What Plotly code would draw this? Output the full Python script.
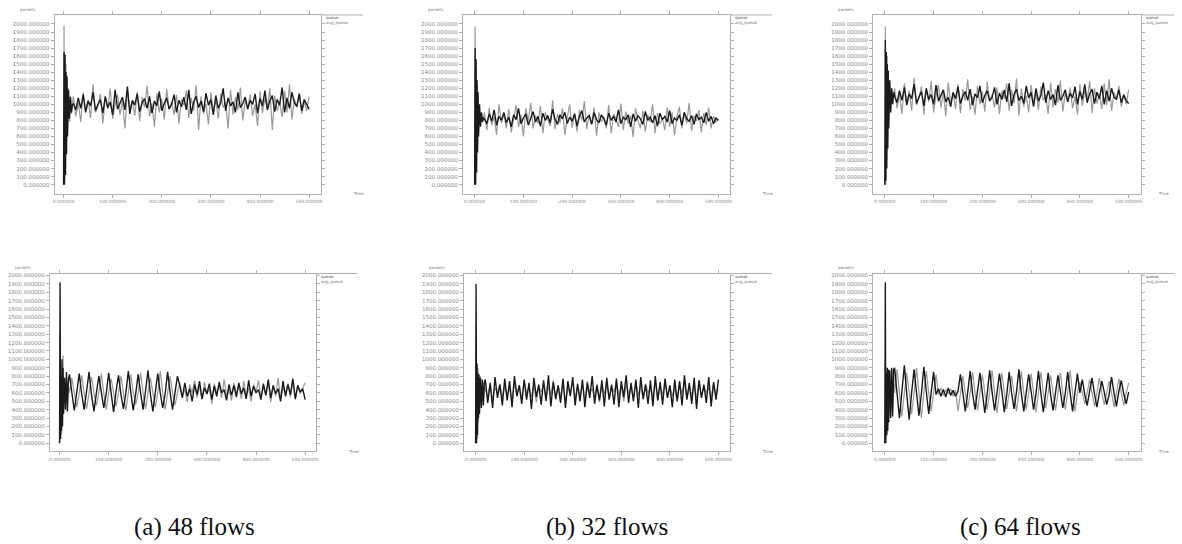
import plotly.graph_objects as go

# shared time axis (s)
T = [0, 1, 2, 3, 4, 5, 6, 7, 8, 10, 12, 14, 16, 18,
     20, 25, 30, 35, 40, 45, 50, 55, 60, 65, 70, 75, 80, 85, 90, 95,
     100, 105, 110, 115, 120, 125, 130, 135, 140, 145, 150, 155, 160, 165, 170, 175,
     180, 185, 190, 195, 200, 205, 210, 215, 220, 225, 230, 235, 240, 245, 250, 255,
     260, 265, 270, 275, 280, 285, 290, 295, 300, 305, 310, 315, 320, 325, 330, 335,
     340, 345, 350, 355, 360, 365, 370, 375, 380, 385, 390, 395, 400, 405, 410, 415,
     420, 425, 430, 435, 440, 445, 450, 455, 460, 465, 470, 475, 480, 485, 490, 495, 500]

XTICKS = [0, 100, 200, 300, 400, 500]
YTICKS = [0, 100, 200, 300, 400, 500, 600, 700, 800, 900, 1000,
          1100, 1200, 1300, 1400, 1500, 1600, 1700, 1800, 1900, 2000]

# ---- top row, panel (a) 48 flows
top_a_black = [0, 1650, 0, 1620, 120, 1400, 380, 1350, 600, 1180, 820, 1090, 900, 990,
    1010, 930, 1080, 950, 1120, 900, 1040, 980, 1150, 920,
    1000, 1060, 890, 1100, 960, 1030, 870, 1180, 940, 1010,
    1090, 930, 1220, 880, 1050, 990, 1130, 910, 1020, 1070,
    950, 1100, 890, 1040, 980, 1160, 920, 1010, 1080, 940,
    1000, 1120, 900, 1050, 970, 1090, 930, 1180, 880, 1030,
    1100, 960, 1040, 910, 1140, 990, 1060, 870, 1110, 950,
    1020, 1200, 920, 1080, 980, 1030, 900, 1150, 960, 1010,
    1090, 940, 1050, 1000, 1130, 890, 1070, 980, 1170, 930,
    1040, 1110, 910, 1060, 990, 1210, 900, 1080, 950, 1150,
    1020, 970, 1130, 920, 1060, 1000, 940]
top_a_gray = [0, 1980, 60, 1580, 200, 1500, 420, 1300, 650, 1200, 780, 1100, 880, 1050,
    1100, 850, 1020, 780, 1150, 920, 1060, 830, 1250, 900,
    980, 1130, 760, 1080, 940, 1200, 820, 1000, 1120, 870,
    1050, 700, 1180, 930, 1040, 860, 1160, 790, 1090, 960,
    1230, 850, 1010, 720, 1140, 900, 1070, 810, 1190, 940,
    1030, 870, 1120, 760, 1060, 990, 1170, 830, 1080, 920,
    1240, 680, 1100, 880, 1010, 750, 1150, 900, 1060, 820,
    1130, 960, 1020, 700, 1180, 870, 1090, 930, 1210, 800,
    1050, 940, 1120, 860, 1000, 730, 1160, 890, 1080, 950,
    1200, 680, 1110, 920, 1030, 840, 1170, 900, 1250, 810,
    1060, 970, 1140, 880, 1030, 920, 1100]

# ---- top row, panel (b) 32 flows
top_b_black = [0, 1700, 0, 1560, 150, 1300, 400, 1150, 600, 1000, 720, 900, 780, 830,
    820, 760, 880, 790, 930, 740, 850, 800, 900, 770,
    840, 720, 870, 810, 950, 760, 830, 880, 740, 820,
    910, 780, 850, 730, 890, 800, 860, 770, 940, 810,
    750, 870, 820, 900, 760, 840, 790, 880, 730, 850,
    920, 780, 830, 860, 750, 900, 810, 770, 870, 820,
    740, 890, 800, 850, 780, 930, 760, 840, 810, 870,
    720, 880, 790, 860, 820, 750, 910, 800, 840, 770,
    860, 730, 890, 810, 850, 780, 920, 760, 830, 800,
    870, 740, 900, 820, 790, 860, 750, 880, 810, 840,
    770, 900, 790, 850, 760, 830, 800]
top_b_gray = [0, 1970, 80, 1450, 250, 1250, 480, 1100, 650, 950, 740, 880, 790, 820,
    900, 680, 960, 740, 850, 620, 1000, 770, 880, 700,
    940, 650, 820, 990, 720, 870, 600, 950, 790, 1020,
    700, 860, 760, 980, 640, 900, 810, 730, 1050, 690,
    880, 770, 950, 620, 840, 1000, 710, 890, 660, 930,
    800, 1040, 690, 870, 750, 960, 610, 900, 780, 850,
    700, 990, 640, 880, 820, 720, 1010, 680, 910, 760,
    860, 590, 950, 800, 700, 920, 660, 870, 780, 1000,
    640, 890, 750, 830, 680, 960, 720, 900, 620, 850,
    970, 700, 880, 760, 1020, 670, 860, 790, 930, 650,
    890, 740, 960, 700, 850, 780, 820]

# ---- top row, panel (c) 64 flows
top_c_black = [0, 1800, 50, 1650, 200, 1500, 450, 1420, 700, 1300, 900, 1200, 1000, 1150,
    1100, 1020, 1170, 1050, 1210, 990, 1130, 1070, 1250, 1010,
    1090, 1160, 980, 1200, 1060, 1120, 1000, 1240, 1040, 1110,
    1180, 1030, 1090, 970, 1150, 1070, 1220, 1010, 1100, 1160,
    1050, 1190, 990, 1130, 1080, 1230, 1020, 1110, 1170, 1040,
    1090, 1210, 1000, 1140, 1060, 1180, 1030, 1260, 980, 1120,
    1190, 1050, 1100, 1010, 1230, 1080, 1150, 970, 1200, 1040,
    1110, 1270, 1020, 1170, 1060, 1120, 990, 1240, 1050, 1100,
    1180, 1030, 1140, 1080, 1220, 1000, 1160, 1060, 1250, 1020,
    1130, 1190, 1010, 1150, 1070, 1230, 1000, 1170, 1040, 1200,
    1090, 1060, 1180, 1020, 1120, 1050, 1010]
top_c_gray = [0, 1970, 0, 1500, 300, 1600, 550, 1350, 800, 1250, 950, 1180, 1020, 1100,
    1200, 950, 1130, 880, 1260, 1010, 1170, 920, 1330, 990,
    1080, 1220, 870, 1180, 1030, 1290, 900, 1110, 1240, 960,
    1150, 850, 1270, 1020, 1140, 940, 1250, 890, 1190, 1050,
    1310, 930, 1100, 870, 1230, 1000, 1160, 910, 1280, 1040,
    1120, 960, 1210, 880, 1170, 1070, 1260, 920, 1180, 1010,
    1320, 860, 1200, 970, 1110, 900, 1240, 990, 1150, 930,
    1220, 1050, 1120, 880, 1270, 960, 1190, 1020, 1300, 910,
    1140, 1030, 1210, 950, 1100, 870, 1250, 980, 1170, 1040,
    1290, 890, 1200, 1010, 1130, 940, 1260, 990, 1310, 920,
    1150, 1060, 1230, 970, 1120, 1000, 1180]

# ---- bottom row, panel (a)
bot_a_black = [0, 1920, 50, 800, 150, 1000, 200, 900, 350, 780, 400, 850, 380, 760,
    820, 600, 390, 610, 830, 590, 400, 620, 850, 580,
    380, 600, 800, 610, 420, 590, 840, 600, 370, 620,
    810, 580, 410, 600, 860, 610, 390, 590, 820, 600,
    400, 620, 870, 580, 380, 610, 830, 600, 420, 590,
    850, 610, 400, 600, 800,
    680, 540, 720, 560, 650, 500, 700, 580, 740, 530,
    660, 590, 710, 520, 680, 560, 730, 600, 640, 510,
    700, 570, 690, 550, 720, 590, 660, 530, 750, 560,
    680, 600, 640, 520, 710, 570, 760, 540, 690, 590,
    650, 500, 740, 560, 700, 580, 770, 530, 690, 610,
    650, 520]
bot_a_gray = [0, 1300, 300, 950, 100, 700, 250, 1050, 420, 700, 500, 720, 480, 680,
    600, 780, 600, 430, 600, 810, 600, 410, 600, 790,
    600, 450, 600, 830, 600, 400, 600, 770, 600, 440,
    600, 800, 600, 390, 600, 820, 600, 460, 600, 840,
    600, 410, 600, 780, 600, 430, 600, 860, 600, 400,
    600, 800, 600, 450, 600,
    720, 560, 640, 490, 700, 600, 750, 540, 680, 520,
    730, 580, 650, 470, 710, 600, 690, 540, 760, 570,
    640, 510, 720, 590, 680, 530, 740, 560, 660, 500,
    700, 610, 750, 540, 670, 580, 720, 490, 690, 560,
    780, 530, 660, 600, 710, 550, 740, 520, 680, 590,
    650, 720]

# ---- bottom row, panel (b)
bot_b_black = [0, 1900, 0, 950, 100, 830, 300, 820, 350, 780, 420, 760, 450, 720,
    760, 480, 720, 420, 790, 540, 700, 450, 770, 510,
    740, 430, 800, 560, 690, 470, 760, 520, 720, 410,
    780, 550, 700, 460, 750, 500, 810, 440, 730, 530,
    690, 480, 770, 420, 740, 560, 790, 450, 710, 500,
    760, 430, 720, 540, 800, 470, 690, 510, 750, 440,
    780, 520, 700, 460, 770, 430, 740, 550, 810, 480,
    720, 500, 760, 420, 790, 530, 700, 470, 750, 440,
    800, 510, 730, 460, 770, 540, 690, 430, 760, 500,
    740, 450, 810, 520, 720, 470, 780, 410, 750, 540,
    700, 480, 790, 440, 730, 520, 760]
bot_b_gray = [0, 1400, 200, 700, 50, 900, 250, 700, 400, 800, 480, 700, 500, 680,
    640, 560, 700, 520, 660, 600, 710, 540, 680, 580,
    650, 510, 720, 570, 690, 530, 740, 600, 660, 550,
    700, 490, 680, 610, 720, 540, 670, 580, 750, 520,
    690, 560, 710, 500, 660, 590, 730, 540, 680, 570,
    700, 520, 740, 600, 650, 550, 710, 490, 690, 580,
    720, 530, 670, 610, 740, 560, 680, 500, 700, 590,
    660, 540, 730, 570, 690, 520, 710, 600, 650, 550,
    740, 510, 680, 580, 720, 540, 690, 560, 660, 500,
    710, 590, 730, 530, 670, 570, 700, 520, 750, 560,
    680, 600, 660, 540, 720, 580, 640]

# ---- bottom row, panel (c)
bot_c_black = [0, 1920, 0, 840, 100, 900, 150, 880, 250, 870, 300, 900, 320, 880,
    900, 600, 300, 620, 930, 580, 280, 610, 880, 600, 330, 590, 910, 620, 350, 600, 850, 580,
    650, 560, 640, 550, 660, 570, 630, 560,
    620, 820, 600, 380, 610, 860, 590, 400, 620, 840,
    600, 360, 590, 870, 610, 390, 600, 830, 620, 370,
    580, 850, 600, 410, 610, 880, 590, 380, 600, 820,
    620, 400, 590, 860, 600, 370, 610, 840, 580, 390,
    600, 810, 620, 420, 590, 850, 600, 380, 610, 830,
    600, 760, 580, 450, 620, 780, 590, 430, 600, 740, 610, 460, 580, 790, 600, 440,
    620, 750, 590, 470, 610]
bot_c_gray = [0, 1000, 250, 700, 80, 820, 200, 760, 330, 840, 380, 860, 400, 800,
    600, 880, 600, 320, 600, 840, 600, 350, 600, 900, 600, 300, 600, 860, 600, 380, 600, 820,
    580, 660, 570, 640, 590, 650, 560, 630,
    380, 600, 800, 600, 420, 600, 850, 600, 390, 600,
    820, 600, 400, 600, 870, 600, 360, 600, 840, 600,
    410, 600, 800, 600, 380, 600, 860, 600, 400, 600,
    830, 600, 370, 600, 850, 600, 420, 600, 810, 600,
    390, 600, 840, 600, 400, 600, 870, 600, 380, 600,
    730, 600, 470, 600, 760, 600, 440, 600, 780, 600, 460, 600, 740, 600, 430, 600,
    770, 600, 450, 600, 720]

LEGEND_TEXT = ["queue", "avg_queue"]
Y_TITLE = "packets"
X_TITLE = "Time"
CAPTIONS = ["(a) 48 flows", "(b) 32 flows", "(c) 64 flows"]

W, H = 1182, 544
OFF = 8  # the page body has an 8px margin; positions below are page pixels

def px(v):
    return (v - OFF) / W

def py(v):
    return 1 - (v - OFF) / H

# panel frames in page pixels: (left, right, top, bottom)
panels = [
    dict(frame=(50, 318, 14, 193), xr=(-18, 524), yr=(-112, 2112), black=top_a_black, gray=top_a_gray),
    dict(frame=(461, 730, 14, 193), xr=(-24, 524), yr=(-112, 2112), black=top_b_black, gray=top_b_gray),
    dict(frame=(874, 1144, 14, 193), xr=(-24, 526), yr=(-112, 2112), black=top_c_black, gray=top_c_gray),
    dict(frame=(45, 313, 273, 451), xr=(-20, 522), yr=(-95, 2024), black=bot_a_black, gray=bot_a_gray),
    dict(frame=(462, 730, 273, 451), xr=(-24, 524), yr=(-95, 2024), black=bot_b_black, gray=bot_b_gray),
    dict(frame=(874, 1144, 273, 451), xr=(-24, 526), yr=(-95, 2024), black=bot_c_black, gray=bot_c_gray),
]

fig = go.Figure()
layout = dict(width=W, height=H, margin=dict(l=0, r=0, t=0, b=0),
              paper_bgcolor="white", plot_bgcolor="white", showlegend=False)
shapes = []
annotations = []
AX_COLOR = "#b0b0b0"
YTICK_FONT = dict(family="DejaVu Sans", size=5.5, color="#8a8a8a")
XTICK_FONT = dict(family="DejaVu Sans", size=4.5, color="#8a8a8a")
SMALL = dict(family="DejaVu Sans", size=4, color="#777777")

for i, p in enumerate(panels):
    n = i + 1
    xa = "x" if n == 1 else f"x{n}"
    ya = "y" if n == 1 else f"y{n}"
    l, r, t, b = p["frame"]
    fig.add_trace(go.Scatter(x=T, y=p["gray"], mode="lines", line=dict(color="#9a9a9a", width=1.2),
                             xaxis=xa, yaxis=ya, hoverinfo="skip"))
    fig.add_trace(go.Scatter(x=T, y=p["black"], mode="lines", line=dict(color="#1a1a1a", width=1.4),
                             xaxis=xa, yaxis=ya, hoverinfo="skip"))
    layout[f"xaxis{'' if n == 1 else n}"] = dict(
        domain=[px(l), px(r)], range=list(p["xr"]), anchor=ya,
        tickvals=XTICKS, ticktext=[f"{v:.6f}" for v in XTICKS],
        showgrid=False, zeroline=False, showline=True, linecolor=AX_COLOR, linewidth=1,
        mirror="ticks", ticks="outside", ticklen=3, tickcolor=AX_COLOR, tickfont=XTICK_FONT)
    layout[f"yaxis{'' if n == 1 else n}"] = dict(
        domain=[py(b), py(t)], range=list(p["yr"]), anchor=xa,
        tickvals=YTICKS, ticktext=[f"{v:.6f}" for v in YTICKS],
        showgrid=False, zeroline=False, showline=True, linecolor=AX_COLOR, linewidth=1,
        mirror="ticks", ticks="outside", ticklen=3, tickcolor=AX_COLOR, tickfont=YTICK_FONT)
    # extended top rule to the legend area
    shapes.append(dict(type="line", xref="paper", yref="paper", x0=px(r), x1=px(min(r + 42, 1182)),
                       y0=py(t), y1=py(t), line=dict(color=AX_COLOR, width=1)))
    # legend entries
    for k, txt in enumerate(LEGEND_TEXT):
        annotations.append(dict(x=px(r + 3), y=py(t + 3 + 5 * k), xref="paper", yref="paper",
                                text=txt, showarrow=False, xanchor="left", yanchor="middle",
                                font=dict(family="DejaVu Sans", size=4, color="#555555" if k == 0 else "#777777")))
    # y title and x title
    annotations.append(dict(x=px(l - 37), y=py(t - 6), xref="paper", yref="paper", text=Y_TITLE,
                            showarrow=False, xanchor="left", yanchor="middle", font=SMALL))
    annotations.append(dict(x=px(min(r + 30, 1180)), y=py(b), xref="paper", yref="paper", text=X_TITLE,
                            showarrow=False, xanchor="left" if r + 45 < 1182 else "right",
                            yanchor="middle", font=SMALL))

for cx, txt in zip([191, 606, 1022], CAPTIONS):
    annotations.append(dict(x=px(cx), y=py(527), xref="paper", yref="paper", text=txt,
                            showarrow=False, xanchor="center", yanchor="middle",
                            font=dict(family="Liberation Serif", size=25, color="#111111")))

layout["shapes"] = shapes
layout["annotations"] = annotations
fig.update_layout(**layout)
fig.write_html("out.html")
